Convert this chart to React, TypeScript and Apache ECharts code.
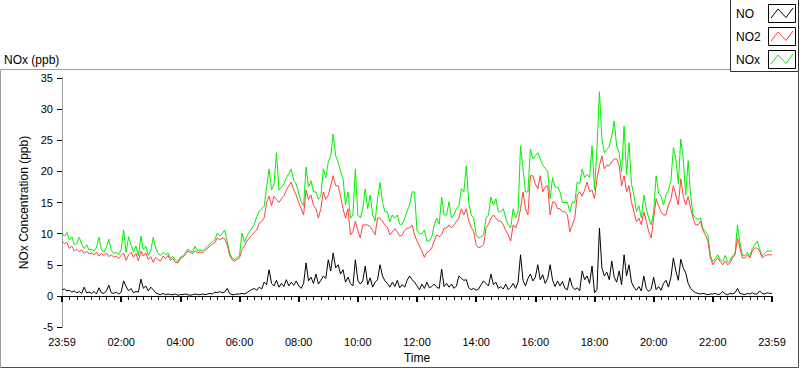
import React, { useEffect, useRef } from 'react';
import * as echarts from 'echarts';

// Sampling step of the arrays below (minutes since 23:59 of the previous day)
const STEP_MIN = 5;

// NO2 (ppb), 12 values per hour, plus the final 23:59 value
const no2Values = [
  8.8, 8.4, 8.6, 7.6, 8.0, 7.2, 7.5, 7.1, 7.4, 6.8, 7.2, 6.7,
  6.9, 6.6, 7.0, 6.4, 6.8, 6.5, 6.9, 6.3, 6.6, 6.2, 6.4, 6.0,
  6.5, 6.9, 5.7, 6.6, 7.0, 6.2, 6.8, 5.6, 7.2, 6.4, 6.9, 5.8,
  6.3, 5.4, 6.2, 5.8, 5.6, 6.4, 6.0, 6.5, 5.7, 6.0, 5.4, 5.3,
  6.0, 6.2, 6.6, 7.2, 7.0, 6.8, 7.2, 6.9, 7.1, 6.9, 7.3, 7.6,
  8.0, 8.3, 8.5, 9.3, 9.0, 9.3, 9.2, 8.2, 6.5, 5.8, 5.6, 5.9,
  6.1, 7.4, 8.0, 8.8, 9.3, 9.8, 10.2, 10.6, 11.7, 12.0, 12.5, 15.0,
  16.0, 14.5, 16.0, 15.5, 15.0, 15.6, 16.0, 17.0, 17.7, 18.3, 17.0, 16.2,
  15.0, 14.0, 13.0, 17.0, 15.5, 16.2, 14.5, 14.0, 12.5, 14.0, 16.7, 15.5,
  16.2, 17.7, 19.3, 17.7, 17.7, 16.0, 14.0, 12.5, 14.0, 9.8, 10.3, 12.0,
  10.5, 9.3, 11.4, 11.4, 11.4, 11.1, 10.5, 9.8, 12.5, 12.5, 12.0, 11.4,
  11.0, 9.8, 10.3, 10.8, 10.3, 9.6, 9.8, 10.5, 10.9, 10.9, 11.4, 9.8,
  8.8, 8.0, 7.2, 6.2, 7.0, 7.2, 7.7, 8.8, 9.8, 9.5, 9.8, 10.9,
  10.9, 11.4, 10.9, 11.4, 12.0, 12.5, 14.0, 13.0, 14.0, 12.0, 11.0, 10.3,
  8.2, 7.7, 7.9, 8.2, 10.9, 11.5, 12.5, 13.0, 12.5, 12.0, 12.0, 11.4,
  10.5, 9.8, 8.8, 11.4, 10.9, 12.0, 14.0, 16.7, 14.0, 13.0, 19.3, 19.3,
  18.0, 17.2, 19.3, 16.7, 17.5, 17.7, 13.0, 15.1, 15.0, 14.0, 14.0, 13.5,
  13.5, 13.0, 10.3, 11.4, 12.5, 16.2, 16.7, 16.0, 17.0, 18.3, 16.7, 17.0,
  15.6, 18.8, 20.9, 22.5, 20.4, 21.0, 20.9, 21.5, 22.0, 22.0, 20.9, 17.7,
  19.3, 16.7, 17.7, 15.0, 13.5, 11.9, 12.5, 11.4, 13.5, 12.0, 10.3, 9.3,
  12.5, 15.6, 14.5, 13.5, 13.0, 13.0, 14.6, 15.5, 17.7, 16.2, 14.6, 18.8,
  16.0, 14.6, 16.0, 14.0, 12.5, 11.4, 11.4, 12.0, 10.5, 9.8, 8.8, 6.1,
  5.0, 5.6, 6.1, 5.5, 5.0, 5.6, 5.0, 5.3, 6.1, 6.6, 9.3, 7.7,
  6.1, 6.1, 6.6, 6.1, 7.2, 7.7, 7.7, 7.2, 6.1, 6.4, 6.6, 6.6,
  6.6,
];

// NOx (ppb)
const noxValues = [
  10.0, 9.6, 10.2, 9.0, 9.5, 8.2, 8.4, 9.4, 8.3, 7.6, 8.2, 7.4,
  7.5, 7.2, 7.8, 9.4, 7.4, 7.0, 7.8, 9.1, 7.3, 6.8, 7.0, 6.6,
  7.4, 10.6, 7.0, 9.5, 8.2, 7.0, 8.0, 6.4, 9.6, 7.4, 8.0, 6.5,
  7.2, 9.4, 7.7, 6.8, 6.5, 7.0, 6.6, 6.9, 6.1, 6.3, 5.8, 5.5,
  6.2, 6.4, 6.9, 7.5, 7.3, 7.0, 8.0, 7.2, 7.4, 7.2, 7.6, 7.9,
  8.4, 8.7, 9.0, 10.1, 9.6, 10.0, 10.6, 8.8, 6.9, 6.1, 5.8, 6.2,
  6.5, 10.1, 8.6, 9.6, 10.3, 10.9, 11.5, 12.7, 13.6, 14.0, 14.4, 17.5,
  20.4, 17.0, 18.0, 23.0, 17.0, 17.5, 18.0, 19.0, 19.6, 20.4, 18.5, 18.0,
  16.5, 15.1, 14.5, 20.7, 17.5, 18.5, 16.7, 16.7, 15.5, 16.0, 20.4, 19.0,
  21.5, 22.5, 26.0, 22.5, 21.5, 20.0, 18.8, 14.6, 16.7, 12.5, 13.0, 20.4,
  13.0, 12.5, 14.0, 17.2, 14.0, 16.2, 13.0, 12.0, 15.6, 18.2, 15.0, 13.5,
  13.5, 11.9, 13.0, 12.5, 13.0, 11.5, 11.5, 12.5, 13.6, 14.6, 16.7, 16.7,
  10.4, 10.0, 10.0, 10.6, 8.8, 8.8, 9.5, 11.4, 12.5, 11.5, 15.9, 13.0,
  13.0, 15.1, 12.5, 13.0, 14.0, 14.5, 17.2, 16.7, 20.9, 15.0, 13.0, 12.5,
  9.8, 9.3, 9.5, 9.8, 12.5, 13.0, 15.9, 14.6, 15.6, 13.5, 13.5, 14.0,
  12.5, 11.4, 10.9, 14.0, 12.5, 13.5, 24.1, 20.4, 16.7, 16.7, 23.6, 22.0,
  22.5, 23.0, 22.0, 21.0, 20.5, 20.0, 15.6, 19.0, 17.5, 17.5, 16.7, 15.0,
  15.0, 15.0, 13.5, 15.1, 15.0, 18.3, 18.0, 20.4, 19.0, 19.5, 19.0, 24.1,
  17.0, 23.6, 32.8, 25.2, 23.0, 23.5, 24.0, 25.7, 28.1, 24.0, 23.0, 19.9,
  27.3, 19.5, 24.6, 18.0, 16.2, 13.5, 14.5, 12.5, 16.2, 14.0, 12.5, 11.4,
  13.5, 19.3, 16.5, 16.0, 14.6, 16.2, 17.0, 18.5, 23.8, 22.0, 18.0, 25.2,
  22.0, 16.2, 21.7, 16.0, 13.0, 12.5, 12.3, 12.5, 10.8, 10.3, 9.8, 6.5,
  5.5, 6.0, 6.6, 5.8, 5.5, 6.5, 5.4, 5.7, 6.5, 6.8, 11.4, 8.5,
  6.5, 6.5, 7.0, 6.3, 7.6, 8.2, 8.8, 7.5, 6.4, 6.8, 7.2, 7.2,
  7.2,
];

// NO (ppb)
const noValues = [
  1.0, 1.1, 0.8, 0.9, 0.6, 0.8, 0.5, 0.7, 0.4, 1.4, 0.5, 0.6,
  0.4, 0.7, 0.3, 1.3, 0.5, 0.4, 0.8, 1.7, 0.5, 0.4, 0.6, 0.3,
  0.6, 2.4, 1.5, 0.8, 1.2, 0.5, 0.7, 0.6, 2.7, 1.2, 1.6, 0.8,
  1.4, 1.0, 0.5, 0.3, 0.2, 0.4, 0.2, 0.3, 0.2, 0.2, 0.3, 0.1,
  0.2, 0.2, 0.3, 0.2, 0.1, 0.2, 0.3, 0.2, 0.2, 0.3, 0.2, 0.3,
  0.4, 0.3, 0.6, 0.5, 0.7, 0.5, 0.6, 1.2, 0.4, 0.2, 0.2, 0.3,
  0.3, 0.4, 0.3, 0.5, 0.8, 1.0, 1.2, 0.9, 1.4, 1.1, 2.2, 1.8,
  4.2, 2.0, 1.6, 2.5, 1.4, 2.0, 1.5, 2.6, 1.6, 2.2, 1.7, 2.4,
  1.6, 1.2, 2.0, 5.3, 2.4, 3.0, 2.0, 3.5, 1.9, 2.5, 3.2, 2.8,
  5.8, 4.0, 6.9, 4.5, 5.0, 3.5, 4.2, 2.2, 3.0, 2.0, 1.6, 5.8,
  2.5, 1.9, 2.4, 4.8, 1.8, 2.9, 1.4, 2.2, 2.6, 5.0, 3.2, 2.4,
  2.0, 1.4, 2.2, 1.5, 2.5, 1.3, 1.8, 1.4, 2.5, 3.2, 2.6, 2.2,
  1.6, 1.0, 1.9, 1.2, 2.2, 1.3, 1.5, 1.9, 1.4, 1.2, 4.3, 1.5,
  2.0, 1.4, 1.9, 1.2, 1.6, 3.2, 2.8, 2.5, 2.6, 1.3, 1.0, 1.2,
  0.9, 1.1, 1.8, 2.4, 2.0, 1.6, 3.5, 1.8, 2.2, 1.2, 1.5, 1.1,
  1.9, 1.0, 1.4, 2.0, 1.2, 2.2, 6.6, 2.5, 1.6, 2.8, 3.5, 2.4,
  3.0, 5.0, 2.6, 3.4, 2.0, 2.8, 5.0, 2.5, 1.5, 2.4, 1.6, 2.3,
  1.2, 1.0, 2.9, 1.5, 1.0, 1.3, 0.8, 4.0, 2.6, 3.2, 2.0, 4.8,
  0.5, 1.0, 10.9, 4.5, 3.2, 3.8, 2.6, 5.6, 3.0, 2.2, 4.0, 1.8,
  6.6, 3.2, 5.0, 2.2, 1.4, 0.9, 1.5, 0.8, 3.2, 1.2, 0.7, 1.1,
  3.0, 1.0, 1.5, 0.9, 2.0, 2.5, 1.4, 3.0, 6.1, 4.0, 2.5, 5.9,
  4.5, 3.7, 2.0, 1.2, 0.8, 0.5, 0.4, 0.3, 0.4, 0.3, 0.2, 0.3,
  0.3, 0.4, 0.2, 0.3, 0.7, 0.3, 0.2, 0.4, 0.3, 0.5, 1.2, 0.4,
  0.3, 0.2, 0.4, 0.3, 0.5, 0.3, 0.3, 0.8, 0.4, 0.3, 0.5, 0.4,
  0.4,
];

const seriesNames = ['NO', 'NO2', 'NOx'];
const seriesColors = ['#000000', '#ff4040', '#00f000'];

const yMin = -5;
const yMax = 35;
const yInterval = 5;
const xMin = 0;
const xMax = 1440;
const xInterval = 120;

const FONT = '"Liberation Sans", Arial, sans-serif';

const toPairs = (arr: number[]) => arr.map((v, i) => [i * STEP_MIN, v]);

const fmtTime = (v: number) => {
  if (v === xMin || v === xMax) return '23:59';
  const h = Math.round(v / 60);
  return (h < 10 ? '0' : '') + h + ':00';
};

export default function App() {
  const ref = useRef<HTMLDivElement>(null);
  useEffect(() => {
    document.body.style.margin = '0';
    const chart = echarts.init(ref.current!, null, { renderer: 'svg' });

    const legendItems = seriesNames.map((name, k) => {
      const oy = k * 23;
      return [
        {
          type: 'text',
          x: 736,
          y: 13.5 + oy,
          style: { text: name, font: `12px ${FONT}`, fill: '#000', verticalAlign: 'middle' },
        },
        {
          type: 'rect',
          shape: { x: 768.5, y: 4.5 + oy, width: 27, height: 18 },
          style: { fill: '#fff', stroke: '#000', lineWidth: 1 },
        },
        {
          type: 'polyline',
          shape: { points: [[771, 18 + oy], [778, 9 + oy], [786, 17.5 + oy], [793, 8 + oy]] },
          style: { stroke: seriesColors[k], lineWidth: 1, fill: null },
        },
      ];
    }).flat();

    const option: any = {
      animation: false,
      backgroundColor: '#ffffff',
      textStyle: { fontFamily: FONT },
      grid: { left: 62, top: 78, right: 28, bottom: 39, show: false },
      xAxis: [
        {
          type: 'value',
          min: xMin,
          max: xMax,
          interval: xInterval,
          position: 'bottom',
          name: 'Time',
          nameLocation: 'middle',
          nameGap: 25,
          nameTextStyle: { color: '#000', fontSize: 12, fontFamily: FONT },
          axisLine: { show: true, lineStyle: { color: '#a0a0a0', width: 1 } },
          axisTick: { show: true, length: 6, lineStyle: { color: '#000', width: 2 } },
          minorTick: { show: true, splitNumber: 8, length: 4, lineStyle: { color: '#000', width: 1 } },
          axisLabel: { color: '#000', fontSize: 11, fontFamily: FONT, margin: 9, formatter: fmtTime },
          splitLine: { show: false },
          minorSplitLine: { show: false },
        },
        {
          type: 'value',
          min: xMin,
          max: xMax,
          position: 'top',
          axisLine: { show: true, lineStyle: { color: '#000', width: 1 } },
          axisTick: { show: false },
          axisLabel: { show: false },
          splitLine: { show: false },
        },
      ],
      yAxis: [
        {
          type: 'value',
          min: yMin,
          max: yMax,
          interval: yInterval,
          position: 'left',
          name: 'NOx Concentration (ppb)',
          nameLocation: 'middle',
          nameGap: 24,
          nameTextStyle: { color: '#000', fontSize: 12, fontFamily: FONT },
          axisLine: { show: true, lineStyle: { color: '#000', width: 1 } },
          axisTick: { show: true, length: 5, lineStyle: { color: '#000', width: 1 } },
          axisLabel: { color: '#000', fontSize: 11, fontFamily: FONT, margin: 9 },
          splitLine: { show: false },
        },
        {
          type: 'value',
          min: yMin,
          max: yMax,
          position: 'right',
          axisLine: { show: true, lineStyle: { color: '#a0a0a0', width: 1 } },
          axisTick: { show: false },
          axisLabel: { show: false },
          splitLine: { show: false },
        },
      ],
      series: [
        {
          name: 'NOx',
          type: 'line',
          xAxisIndex: 0,
          yAxisIndex: 0,
          data: toPairs(noxValues),
          showSymbol: false,
          symbol: 'none',
          lineStyle: { color: seriesColors[2], width: 1 },
          z: 2,
        },
        {
          name: 'NO2',
          type: 'line',
          xAxisIndex: 0,
          yAxisIndex: 0,
          data: toPairs(no2Values),
          showSymbol: false,
          symbol: 'none',
          lineStyle: { color: seriesColors[1], width: 1 },
          z: 3,
        },
        {
          name: 'NO',
          type: 'line',
          xAxisIndex: 0,
          yAxisIndex: 0,
          data: toPairs(noValues),
          showSymbol: false,
          symbol: 'none',
          lineStyle: { color: seriesColors[0], width: 1 },
          z: 4,
        },
      ],
      graphic: [
        // outer frame
        { type: 'line', shape: { x1: 0.5, y1: 69.5, x2: 730, y2: 69.5 }, style: { stroke: '#a0a0a0', lineWidth: 1 } },
        { type: 'line', shape: { x1: 0.5, y1: 69.5, x2: 0.5, y2: 367.5 }, style: { stroke: '#a0a0a0', lineWidth: 1 } },
        { type: 'line', shape: { x1: 0.5, y1: 367.5, x2: 798.5, y2: 367.5 }, style: { stroke: '#505050', lineWidth: 1 } },
        { type: 'line', shape: { x1: 798.5, y1: 72, x2: 798.5, y2: 367.5 }, style: { stroke: '#505050', lineWidth: 1 } },
        // chart title
        {
          type: 'text',
          x: 4,
          y: 59.5,
          style: { text: 'NOx (ppb)', font: `12px ${FONT}`, fill: '#000', verticalAlign: 'middle' },
        },
        // legend box
        {
          type: 'rect',
          shape: { x: 730.5, y: -2, width: 68, height: 73.5 },
          style: { fill: '#fff', stroke: '#303030', lineWidth: 1 },
        },
        ...legendItems,
      ],
    };

    chart.setOption(option);
    return () => chart.dispose();
  }, []);
  return <div ref={ref} style={{ width: 800, height: 369 }} />;
}
